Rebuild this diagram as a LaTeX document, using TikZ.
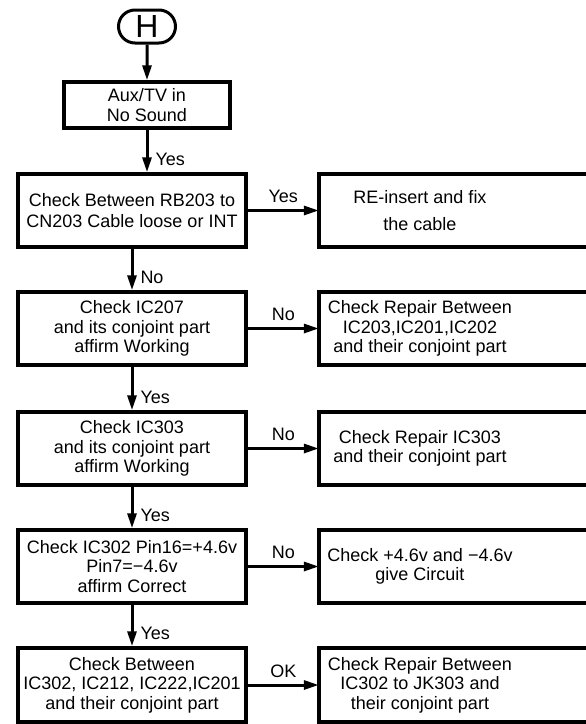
\documentclass[tikz,border=0pt]{standalone}
\usepackage{fontspec}
\setmainfont{Liberation Sans}
\usetikzlibrary{arrows.meta, positioning, shapes.misc}

\begin{document}
\begin{tikzpicture}[x=1pt, y=-1pt,
  box/.style={draw, line width=3.5pt, minimum width=228pt, minimum height=73pt,
    align=center, inner sep=2pt, font=\fontsize{18}{19.5}\selectfont},
  rbox/.style={minimum width=202pt, minimum height=73pt, align=center,
    inner sep=2pt, font=\fontsize{18}{19.5}\selectfont},
  flow/.style={line width=3pt, -{Triangle[length=15pt,width=9pt]}},
  lbl/.style={font=\fontsize{18}{20}\selectfont, inner sep=2pt}]
\useasboundingbox (0,0) rectangle (586,724);

% start and first symptom
\node[draw, rounded rectangle, line width=3pt, minimum width=57pt, minimum height=33pt,
  inner sep=0pt, font=\fontsize{32}{32}\selectfont] (start) at (147,26.5) {H};
\node[box, minimum width=166pt, minimum height=46pt] (aux) at (147,105) {Aux/TV in\\No Sound};

% checks in the left column
\node[box] (b1) at (132,210.5) {Check Between RB203 to\\[2pt]CN203 Cable loose or INT};
\node[box] (b2) at (132,328.5) {Check IC207\\and its conjoint part\\affirm Working};
\node[box] (b3) at (132,448.5) {Check IC303\\and its conjoint part\\affirm Working};
\node[box] (b4) at (132,566.5) {Check IC302 Pin16=+4.6v\\Pin7=−4.6v\\affirm Correct};
\node[box, minimum height=74pt] (b5) at (132,685) {Check Between\\IC302, IC212, IC222,IC201\\and their conjoint part};

% repairs on the right (boxes run off the page)
\node[rbox] (r1) at (420,210.5) {RE-insert and fix\\[7pt]the cable};
\node[rbox] (r2) at (420,328.5) {Check Repair Between\\IC203,IC201,IC202\\and their conjoint part};
\node[rbox] (r3) at (420,448.5) {Check Repair IC303\\and their conjoint part};
\node[rbox] (r4) at (420,566.5) {Check +4.6v and −4.6v\\give Circuit};
\node[rbox, minimum height=74pt] (r5) at (420,685) {Check Repair Between\\IC302 to JK303 and\\their conjoint part};
\foreach \r in {r1,r2,r3,r4,r5}
  \draw[line width=3.5pt] (\r.north west) rectangle ([xshift=100pt]\r.south east);

% main flow
\draw[flow] (start) -- (aux);
\draw[flow] (aux.south) -- (aux.south |- b1.north) node[lbl, pos=0.7, right=5pt] {Yes};
\draw[flow] (b1) -- (b2) node[lbl, pos=0.7, right=5pt] {No};
\draw[flow] (b2) -- (b3) node[lbl, pos=0.7, right=5pt] {Yes};
\draw[flow] (b3) -- (b4) node[lbl, pos=0.7, right=5pt] {Yes};
\draw[flow] (b4) -- (b5) node[lbl, pos=0.7, right=5pt] {Yes};

% branches
\draw[flow] (b1) -- (r1) node[lbl, midway, above=4pt] {Yes};
\draw[flow] (b2) -- (r2) node[lbl, midway, above=4pt] {No};
\draw[flow] (b3) -- (r3) node[lbl, midway, above=4pt] {No};
\draw[flow] (b4) -- (r4) node[lbl, midway, above=4pt] {No};
\draw[flow] (b5) -- (r5) node[lbl, midway, above=4pt] {OK};
\end{tikzpicture}
\end{document}
